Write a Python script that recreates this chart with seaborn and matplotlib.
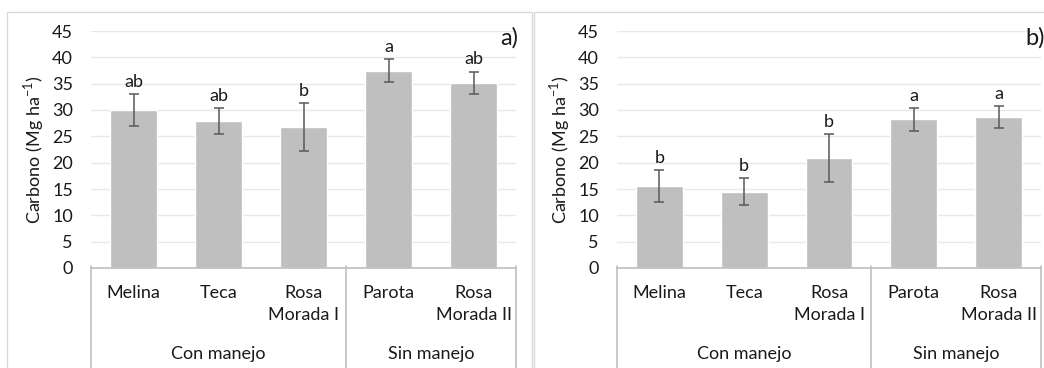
import numpy as np
import pandas as pd
import matplotlib
matplotlib.use("Agg")
import matplotlib.pyplot as plt
import matplotlib.transforms as mtransforms
from matplotlib.patches import Rectangle
import seaborn as sns

## Species (first level of the x axis) and management groups (second level)
species = ["Melina", "Teca", "Rosa\nMorada I", "Parota", "Rosa\nMorada II"]
groups = ["Con manejo", "Sin manejo"]
group_sizes = [3, 2]

## Panel a) carbon stock, error bars and significance letters
carbon_a = [30.0, 27.9, 26.8, 37.5, 35.2]
err_a = [3.1, 2.5, 4.5, 2.1, 2.1]
letters_a = ["ab", "ab", "b", "a", "ab"]

## Panel b)
carbon_b = [15.6, 14.5, 20.9, 28.2, 28.6]
err_b = [3.0, 2.5, 4.6, 2.2, 2.1]
letters_b = ["b", "b", "b", "a", "a"]

yticks = list(range(0, 50, 5))

sns.set_theme(style="white")
plt.rcParams["font.family"] = ["Lato", "DejaVu Sans"]
plt.rcParams["mathtext.fontset"] = "custom"
plt.rcParams["mathtext.rm"] = "Lato"

fs = 13
bar_color = "#bfbfbf"
line_color = "#bfbfbf"
grid_color = "#e8e8e8"
err_color = "#595959"
text_color = "#1a1a1a"

fig = plt.figure(figsize=(10.44, 3.68), dpi=100)

## panel frames (light grey boxes like the spreadsheet chart areas)
fig.patches.append(Rectangle((7 / 1044, -0.1), 525 / 1044, 1.1 - 12 / 368,
                             transform=fig.transFigure, fill=False,
                             edgecolor="#d9d9d9", lw=1.0))
fig.patches.append(Rectangle((534 / 1044, -0.1), 520 / 1044, 1.1 - 12 / 368,
                             transform=fig.transFigure, fill=False,
                             edgecolor="#d9d9d9", lw=1.0))

ax_a = fig.add_axes([91 / 1044, 1 - 268 / 368, 425 / 1044, 237 / 368])
ax_b = fig.add_axes([617 / 1044, 1 - 268 / 368, 424 / 1044, 237 / 368])


def draw_panel(ax, values, errors, letters, tag):
    df = pd.DataFrame({"especie": species, "carbono": values})
    sns.barplot(data=df, x="especie", y="carbono", order=species,
                color=bar_color, saturation=1, width=0.55,
                errorbar=None, ax=ax, zorder=2)
    ax.errorbar(range(len(species)), values, yerr=errors, fmt="none",
                ecolor=err_color, elinewidth=1.1, capsize=3.5,
                capthick=1.1, zorder=3)
    for i, (v, e, lab) in enumerate(zip(values, errors, letters)):
        ax.annotate(lab, (i, v + e), xytext=(0, 3), textcoords="offset points",
                    ha="center", va="bottom", fontsize=fs, color=text_color)

    ax.set_ylim(0, 45)
    ax.set_xlim(-0.5, len(species) - 0.5)
    ax.set_yticks(yticks)
    ax.yaxis.grid(True, color=grid_color, lw=1.0, zorder=0)
    ax.set_axisbelow(True)
    for s in ["top", "right", "left"]:
        ax.spines[s].set_visible(False)
    ax.spines["bottom"].set_color(line_color)
    ax.spines["bottom"].set_linewidth(1.2)
    ax.tick_params(axis="y", length=0, pad=13, labelsize=fs, labelcolor=text_color)
    ax.tick_params(axis="x", length=0, labelbottom=False)
    ax.set_xlabel("")
    ax.set_ylabel("Carbono (Mg ha$^{-1}$)", fontsize=fs, color=text_color,
                  labelpad=4)

    ## hierarchical category axis below the bars
    trans = mtransforms.blended_transform_factory(ax.transData, ax.transAxes)
    bottom = -110 / 237
    row1 = -17 / 237
    row2 = -86 / 237
    for i, name in enumerate(species):
        ax.text(i, row1, name, transform=trans, ha="center", va="top",
                fontsize=fs, color=text_color, linespacing=1.5)
    edges = np.cumsum([0] + group_sizes) - 0.5
    for x in edges:
        ax.plot([x, x], [0.01, bottom], transform=trans, color=line_color,
                lw=1.2, clip_on=False)
    for g, lo, hi in zip(groups, edges[:-1], edges[1:]):
        ax.text((lo + hi) / 2, row2, g, transform=trans, ha="center",
                va="center", fontsize=fs, color=text_color)

    ax.text(0.962, 0.97, tag, transform=ax.transAxes, ha="left", va="center",
            fontsize=17, color=text_color, clip_on=False)


draw_panel(ax_a, carbon_a, err_a, letters_a, "a)")
draw_panel(ax_b, carbon_b, err_b, letters_b, "b)")

fig.savefig("out.png", dpi=100)
